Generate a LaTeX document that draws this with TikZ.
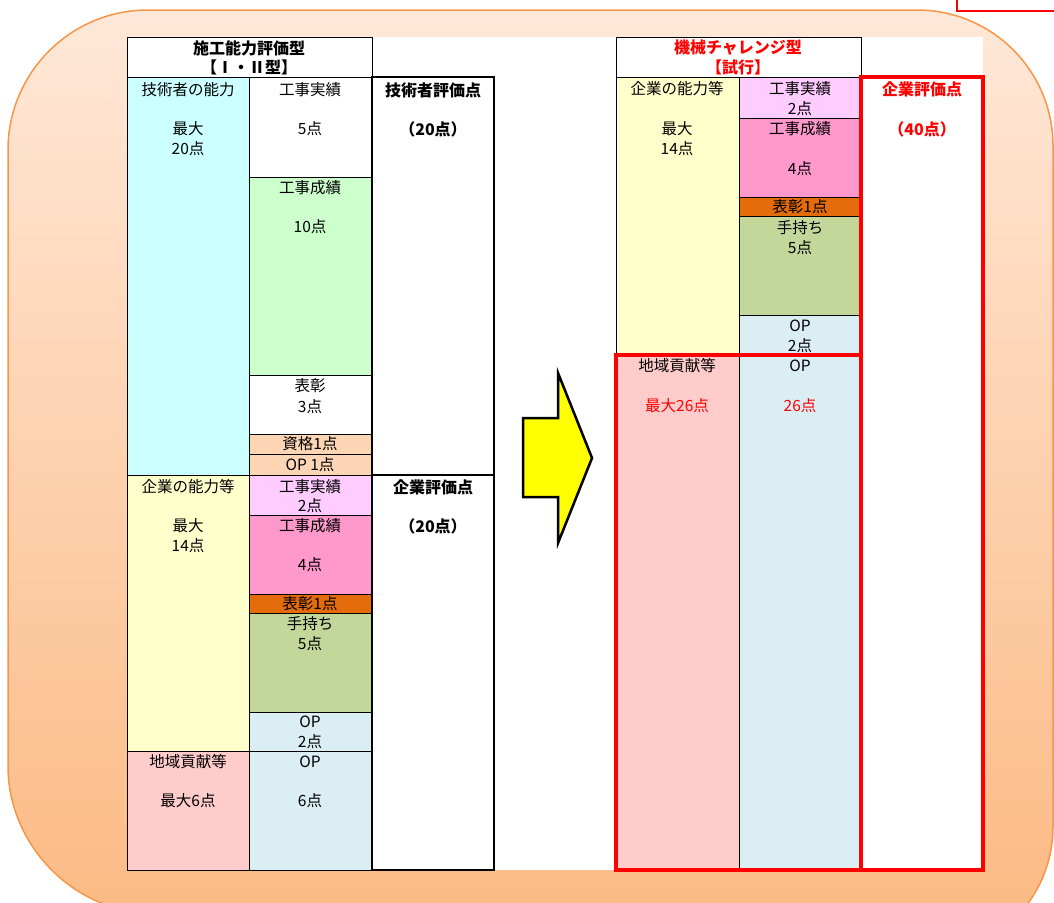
\documentclass[tikz,border=0pt]{standalone}
\usepackage{fontspec}
\setmainfont{Noto Sans CJK JP}
\definecolor{bgtop}{HTML}{FFE8D8}
\definecolor{bgbot}{HTML}{FBB880}
\definecolor{bgline}{HTML}{F79646}
\definecolor{cCyan}{HTML}{CCFFFF}
\definecolor{cGreen}{HTML}{CCFFCC}
\definecolor{cPeach}{HTML}{FCD5B4}
\definecolor{cYellow}{HTML}{FFFFCC}
\definecolor{cLPink}{HTML}{FFCCFF}
\definecolor{cPink}{HTML}{FF99CC}
\definecolor{cOrange}{HTML}{E46C0A}
\definecolor{cOlive}{HTML}{C4D79B}
\definecolor{cBlue}{HTML}{DAEEF3}
\definecolor{cRose}{HTML}{FFCCCC}
\definecolor{cRed}{HTML}{FF0000}
\definecolor{cArrow}{HTML}{FFFF00}
\newcommand\cellbox[5]{\path[fill=#5,draw=black,line width=0.9pt] (#1,#2) rectangle (#3,#4);}
\begin{document}
\begin{tikzpicture}[x=1pt,y=-1pt,
  txt/.style={font=\fontsize{15.5}{17}\selectfont, inner sep=0pt, anchor=center},
  btxt/.style={font=\fontsize{16}{17}\selectfont\bfseries, inner sep=0pt, anchor=center},
  redtxt/.style={txt, text=cRed},
  redbtxt/.style={btxt, text=cRed},
  thickbox/.style={draw=black, line width=2.4pt},
  redbox/.style={draw=cRed, line width=3.2pt}]
\useasboundingbox (0,0) rectangle (1054,902);
% background
\path[draw=bgline, line width=1.5pt, top color=bgtop, bottom color=bgbot]
  (8,500) [rounded corners=140pt] -- (8,10) [rounded corners=136pt] -- (1053,10)
  -- (1053,962) [rounded corners=140pt] -- (8,906) -- cycle;
% top-right small box
\path[fill=white, draw=cRed, line width=1.2pt] (957,-5) rectangle (1064,11);
% white panel
\fill[white] (127,37) rectangle (983,870);

% ===== left table =====
\cellbox{127}{37}{372}{77}{white}
\cellbox{127}{77}{249}{475}{cCyan}
\cellbox{249}{77}{372}{177}{white}
\cellbox{249}{177}{372}{375}{cGreen}
\cellbox{249}{375}{372}{434}{white}
\cellbox{249}{434}{372}{454}{cPeach}
\cellbox{249}{454}{372}{475}{cPeach}
\cellbox{127}{475}{249}{751}{cYellow}
\cellbox{249}{475}{372}{515}{cLPink}
\cellbox{249}{515}{372}{594}{cPink}
\cellbox{249}{594}{372}{613}{cOrange}
\cellbox{249}{613}{372}{712}{cOlive}
\cellbox{249}{712}{372}{751}{cBlue}
\cellbox{127}{751}{249}{870}{cRose}
\cellbox{249}{751}{372}{870}{cBlue}
\path[thickbox, fill=white] (372,77) rectangle (494,475);
\path[thickbox, fill=white] (372,475) rectangle (494,870);

\node[btxt] (lh1) at (249,48) {施工能力評価型};
\node[btxt] (lh2) at (249,67) {【Ⅰ・Ⅱ型】};
\node[txt] (la1) at (188,90) {技術者の能力};
\node[txt] (la2) at (188,129) {最大};
\node[txt] (la3) at (188,149) {20点};
\node[txt] (lb1) at (310,90) {工事実績};
\node[txt] (lb2) at (310,129) {5点};
\node[btxt] (lc1) at (433,90) {技術者評価点};
\node[btxt] (lc2) at (433,129) {（20点）};
\node[txt] (ld1) at (310,188) {工事成績};
\node[txt] (ld2) at (310,227) {10点};
\node[txt] (le1) at (310,386) {表彰};
\node[txt] (le2) at (310,407) {3点};
\node[txt] (lf1) at (310,444) {資格1点};
\node[txt] (lf2) at (310,465) {OP 1点};
\node[txt] (lg1) at (188,487) {企業の能力等};
\node[txt] (lg2) at (188,526) {最大};
\node[txt] (lg3) at (188,546) {14点};
\node[txt] (lh3) at (310,487) {工事実績};
\node[txt] (lh4) at (310,506) {2点};
\node[btxt] (li1) at (433,487) {企業評価点};
\node[btxt] (li2) at (433,526) {（20点）};
\node[txt] (lj1) at (310,526) {工事成績};
\node[txt] (lj2) at (310,565) {4点};
\node[txt] (lk1) at (310,604) {表彰1点};
\node[txt] (ll1) at (310,624) {手持ち};
\node[txt] (ll2) at (310,644) {5点};
\node[txt] (lm1) at (310,722) {OP};
\node[txt] (lm2) at (310,742) {2点};
\node[txt] (ln1) at (188,762) {地域貢献等};
\node[txt] (ln2) at (188,801) {最大6点};
\node[txt] (lo1) at (310,762) {OP};
\node[txt] (lo2) at (310,801) {6点};

% ===== arrow =====
\path[fill=cArrow, draw=black, line width=2.5pt, line join=miter]
  (523,418) -- (558,418) -- (558,373) -- (592,458) -- (558,543) -- (558,497) -- (523,497) -- cycle;

% ===== right table =====
\cellbox{616}{37}{861}{77}{white}
\cellbox{616}{77}{739}{355}{cYellow}
\cellbox{739}{77}{861}{118}{cLPink}
\cellbox{739}{118}{861}{197}{cPink}
\cellbox{739}{197}{861}{216}{cOrange}
\cellbox{739}{216}{861}{315}{cOlive}
\cellbox{739}{315}{861}{355}{cBlue}
\cellbox{616}{355}{739}{870}{cRose}
\cellbox{739}{355}{861}{870}{cBlue}
\draw[redbox] (616,355) rectangle (861,870);
\path[redbox, fill=white] (861,77) rectangle (983,870);

\node[redbtxt] (rh1) at (738,48) {機械チャレンジ型};
\node[redbtxt] (rh2) at (738,67) {【試行】};
\node[txt] (ra1) at (677,89) {企業の能力等};
\node[txt] (ra2) at (677,129) {最大};
\node[txt] (ra3) at (677,149) {14点};
\node[txt] (rb1) at (800,89) {工事実績};
\node[txt] (rb2) at (800,109) {2点};
\node[redbtxt] (rc1) at (922,89) {企業評価点};
\node[redbtxt] (rc2) at (922,129) {（40点）};
\node[txt] (rd1) at (800,129) {工事成績};
\node[txt] (rd2) at (800,169) {4点};
\node[txt] (re1) at (800,207) {表彰1点};
\node[txt] (rf1) at (800,228) {手持ち};
\node[txt] (rf2) at (800,248) {5点};
\node[txt] (rg1) at (800,326) {OP};
\node[txt] (rg2) at (800,346) {2点};
\node[txt] (rh3) at (677,366) {地域貢献等};
\node[redtxt] (rh4) at (677,406) {最大26点};
\node[txt] (ri1) at (800,366) {OP};
\node[redtxt] (ri2) at (800,406) {26点};
\end{tikzpicture}
\end{document}
